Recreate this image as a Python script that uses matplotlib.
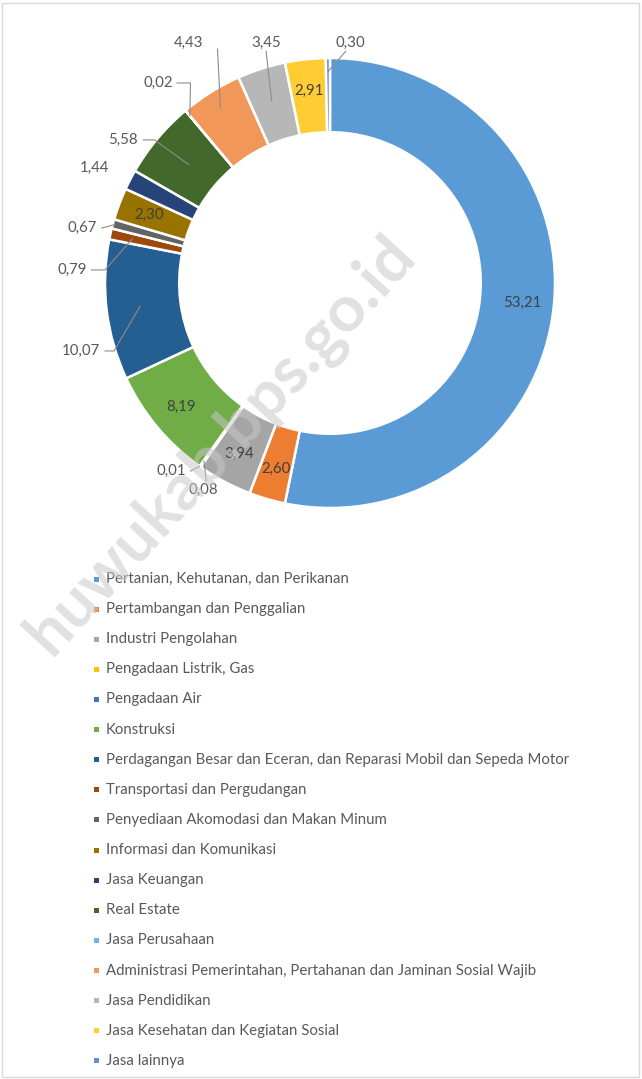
import matplotlib.pyplot as plt
from matplotlib.patches import Rectangle
import numpy as np

# data
sectors = ["Pertanian, Kehutanan, dan Perikanan", "Pertambangan dan Penggalian",
           "Industri Pengolahan", "Pengadaan Listrik, Gas", "Pengadaan Air", "Konstruksi",
           "Perdagangan Besar dan Eceran, dan Reparasi Mobil dan Sepeda Motor",
           "Transportasi dan Pergudangan", "Penyediaan Akomodasi dan Makan Minum",
           "Informasi dan Komunikasi", "Jasa Keuangan", "Real Estate", "Jasa Perusahaan",
           "Administrasi Pemerintahan, Pertahanan dan Jaminan Sosial Wajib",
           "Jasa Pendidikan", "Jasa Kesehatan dan Kegiatan Sosial", "Jasa lainnya"]
shares = [53.21, 2.60, 3.94, 0.08, 0.01, 8.19, 10.07, 0.79, 0.67, 2.30, 1.44, 5.58,
          0.02, 4.43, 3.45, 2.91, 0.30]
colors = ['#5B9BD5', '#ED7D31', '#A5A5A5', '#FFC000', '#4472C4', '#70AD47', '#255E91',
          '#9E480E', '#636363', '#997300', '#264478', '#43682B', '#7CAFDD', '#F1975A',
          '#B7B7B7', '#FFCD33', '#698ED0']

plt.rcParams['font.family'] = ['Lato', 'DejaVu Sans']

W, H = 642, 1079
fig = plt.figure(figsize=(W / 100, H / 100), dpi=100)

# donut axes: centre (330, 283) px, radius 225 px, limits +-1.4
cx, cy, R = 330, 283, 225
span = 1.4 * R
ax = fig.add_axes([(cx - span) / W, (H - cy - span) / H, 2 * span / W, 2 * span / H])
wedges, _ = ax.pie(shares, colors=colors, startangle=90, counterclock=False, radius=1,
                   wedgeprops=dict(width=0.33, edgecolor='white', linewidth=1.8))
ax.set_xlim(-1.4, 1.4)
ax.set_ylim(-1.4, 1.4)
ax.set_aspect('equal', adjustable='box')
ax.axis('off')

def fmt(v):
    return f"{v:.2f}".replace('.', ',')

def mid_angle(w):
    return np.deg2rad((w.theta1 + w.theta2) / 2)

# labels inside the ring
inside = [0, 1, 2, 5, 9, 15]
for i in inside:
    a = mid_angle(wedges[i])
    ax.text(0.86 * np.cos(a), 0.86 * np.sin(a), fmt(shares[i]), ha='center', va='center',
            fontsize=10.8, color='#404040')

# labels outside with leader lines: index -> (text pos, ha, leader points, end radius)
outside = {
    16: ((0.089, 1.067), 'center', [(0.07, 1.03)], 0.94),
    14: ((-0.284, 1.067), 'center', [(-0.284, 1.03)], 0.85),
    13: ((-0.627, 1.067), 'center', [(-0.50, 1.04)], 0.92),
    12: ((-0.70, 0.889), 'right', [(-0.68, 0.889), (-0.62, 0.889)], 0.97),
    11: ((-0.853, 0.636), 'right', [(-0.83, 0.636), (-0.78, 0.636)], 0.82),
    10: ((-0.98, 0.511), 'right', [], None),
    8: ((-1.036, 0.244), 'right', [(-1.015, 0.244)], 0.99),
    7: ((-1.08, 0.058), 'right', [(-1.06, 0.058), (-1.0, 0.058)], 0.9),
    6: ((-1.022, -0.302), 'right', [(-1.0, -0.302), (-0.96, -0.302)], 0.85),
    4: ((-0.64, -0.836), 'right', [(-0.62, -0.836)], 1.0),
    3: ((-0.564, -0.92), 'center', [(-0.55, -0.88)], 0.97),
}
for i, (pos, ha, pts, r_end) in outside.items():
    ax.text(pos[0], pos[1], fmt(shares[i]), ha=ha, va='center', fontsize=10.8,
            color='#595959')
    if r_end is not None:
        a = mid_angle(wedges[i])
        xs = [p[0] for p in pts] + [r_end * np.cos(a)]
        ys = [p[1] for p in pts] + [r_end * np.sin(a)]
        ax.plot(xs, ys, color='#8c8c8c', lw=0.8)

# legend drawn row by row
y0, step = 579, 30.12
for k, (name, col) in enumerate(zip(sectors, colors)):
    y = y0 + k * step
    fig.add_artist(Rectangle((94 / W, 1 - (y + 2.5) / H), 5 / W, 5 / H,
                             transform=fig.transFigure, facecolor=col, edgecolor='none'))
    fig.text(106 / W, 1 - y / H, name, ha='left', va='center', fontsize=10.8,
             color='#595959')

# watermark
fig.text(222 / W, 1 - 446 / H, "huwukab.bps.go.id", rotation=47.5, ha='center',
         va='center', fontsize=47, fontweight='bold', color='#c8c8c8', alpha=0.55,
         zorder=10)

# outer frame
fig.add_artist(Rectangle((2 / W, 2 / H), (W - 5) / W, (H - 5) / H, transform=fig.transFigure,
                         facecolor='none', edgecolor='#d9d9d9', lw=1))

fig.savefig('out.png', dpi=100)
